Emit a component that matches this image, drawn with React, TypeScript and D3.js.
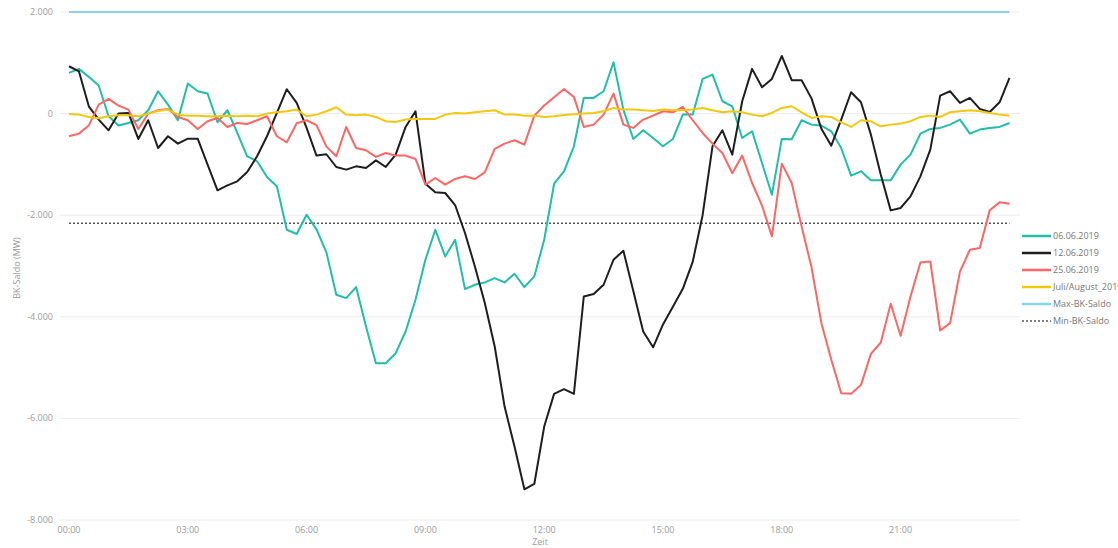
import React, { useEffect, useRef } from 'react'
import * as d3 from 'd3'

// 15-min slots, 00:00 .. 23:45
const slots = d3.range(96).map((i) => i * 15)

const tealValues = [
  802, 880, 723, 552, -53, -236, -184, -131, 66, 440, 177, -131, 591, 440, 394, -171,
  66, -381, -840, -939, -1248, -1432, -2286, -2370, -1990, -2280, -2730, -3567, -3632, -3415, -4191, -4913,
  -4913, -4716, -4289, -3665, -2877, -2286, -2812, -2483, -3455, -3369, -3323, -3238, -3323, -3153, -3415, -3205,
  -2483, -1380, -1136, -643, 309, 309, 440, 1011, 79, -499, -329, -479, -643, -499, -20, -20,
  683, 768, 243, 144, -479, -348, -972, -1596, -499, -505, -131, -217, -236, -348, -677, -1222,
  -1136, -1314, -1314, -1314, -1005, -808, -394, -302, -282, -217, -118, -394, -315, -282, -262, -184,
]

const blackValues = [
  932, 833, 144, -118, -329, 0, 13, -499, -131, -677, -446, -591, -493, -493, -1005, -1510,
  -1412, -1333, -1150, -840, -446, 13, 480, 210, -280, -827, -800, -1051, -1103, -1038, -1070, -920,
  -1051, -808, -263, 46, -1380, -1550, -1563, -1800, -2350, -3009, -3730, -4585, -5767, -6555, -7395, -7291,
  -6161, -5517, -5425, -5517, -3600, -3553, -3369, -2877, -2700, -3490, -4289, -4600, -4150, -3800, -3450, -2920,
  -2000, -644, -329, -808, 243, 880, 519, 683, 1135, 657, 657, 300, -300, -631, -118, 420,
  223, -414, -1202, -1905, -1858, -1629, -1235, -709, 355, 440, 210, 309, 92, 33, 223, 703,
]

const redValues = [
  -446, -394, -236, 177, 289, 158, 79, -302, 0, 66, 92, -66, -131, -302, -151, -86,
  -263, -184, -204, -131, -53, -446, -565, -190, -131, -226, -650, -840, -263, -677, -722, -853,
  -775, -827, -827, -893, -1399, -1268, -1399, -1287, -1235, -1287, -1156, -696, -591, -525, -610, -40,
  160, 320, 486, 328, -263, -217, -20, 394, -217, -282, -118, -40, 46, 26, 131, -131,
  -381, -591, -775, -1175, -827, -1366, -1810, -2417, -985, -1366, -2220, -3025, -4125, -4847, -5504, -5517,
  -5340, -4729, -4506, -3744, -4374, -3600, -2930, -2910, -4270, -4125, -3107, -2680, -2646, -1905, -1747, -1773,
]

const yellowValues = [
  -7, -20, -66, -92, -53, -33, -33, -53, 0, 53, 79, -20, -40, -40, -53, -53,
  -40, -53, -40, -53, 0, 26, 46, 79, -53, -20, 46, 125, -20, -33, -20, -66,
  -151, -164, -118, -105, -105, -105, -20, 13, 0, 26, 46, 66, -20, -20, -40, -40,
  -66, -53, -26, -13, 0, 13, 46, 112, 79, 79, 66, 53, 79, 66, 66, 79,
  112, 66, 26, 46, 26, -20, -53, 13, 112, 145, 26, -85, -53, -66, -171, -263,
  -131, -151, -250, -217, -197, -151, -66, -40, -66, 26, 46, 66, 46, 13, -20, -40,
]

const maxSaldo = 2000
const minSaldo = -2160

const yTicks = [2000, 0, -2000, -4000, -6000, -8000]
const xTicks = [0, 180, 360, 540, 720, 900, 1080, 1260]

const series = [
  { name: '06.06.2019', values: tealValues, color: '#1fbfa8' },
  { name: '12.06.2019', values: blackValues, color: '#1e1e1e' },
  { name: '25.06.2019', values: redValues, color: '#fd6663' },
  { name: 'Juli/August_2019', values: yellowValues, color: '#f2c80f' },
]

const W = 1118
const H = 548

const App = () => {
  const ref = useRef<SVGSVGElement>(null)

  useEffect(() => {
    const svg = d3.select(ref.current)
    svg.selectAll('*').remove()

    const x = d3.scaleLinear().domain([0, 1425]).range([69, 1009.5])
    const y = d3.scaleLinear().domain([-8000, 2000]).range([520, 12])

    const de = d3.formatLocale({ decimal: ',', thousands: '.', grouping: [3], currency: ['', '€'], minus: '-' })
    const fmt = de.format(',.0f')
    const timeFmt = (m: number) => d3.format('02')(Math.floor(m / 60)) + ':' + d3.format('02')(m % 60)

    const font = "'Open Sans', 'Noto Sans', sans-serif"

    // grid
    svg.append('g')
      .selectAll('line')
      .data(yTicks)
      .enter().append('line')
      .attr('x1', 60).attr('x2', 1020)
      .attr('y1', (d) => y(d)).attr('y2', (d) => y(d))
      .attr('stroke', '#ececec').attr('stroke-width', 1)

    // y labels
    svg.append('g')
      .selectAll('text')
      .data(yTicks)
      .enter().append('text')
      .attr('x', 53).attr('y', (d) => y(d) + 3)
      .attr('text-anchor', 'end')
      .attr('font-family', font).attr('font-size', 9)
      .attr('fill', '#9a9a9a')
      .text((d) => fmt(d))

    // x labels
    svg.append('g')
      .selectAll('text')
      .data(xTicks)
      .enter().append('text')
      .attr('x', (d) => x(d)).attr('y', 533)
      .attr('text-anchor', 'middle')
      .attr('font-family', font).attr('font-size', 9)
      .attr('fill', '#9a9a9a')
      .text((d) => timeFmt(d))

    svg.append('text')
      .attr('x', 540).attr('y', 545)
      .attr('text-anchor', 'middle')
      .attr('font-family', font).attr('font-size', 9)
      .attr('fill', '#9a9a9a')
      .text('Zeit')

    svg.append('text')
      .attr('transform', 'translate(20,268) rotate(-90)')
      .attr('text-anchor', 'middle')
      .attr('font-family', font).attr('font-size', 9)
      .attr('fill', '#9a9a9a')
      .text('BK-Saldo (MW)')

    // max / min reference lines
    svg.append('line')
      .attr('x1', x(0)).attr('x2', x(1425))
      .attr('y1', y(maxSaldo)).attr('y2', y(maxSaldo))
      .attr('stroke', '#8ad4eb').attr('stroke-width', 2)

    svg.append('line')
      .attr('x1', x(0)).attr('x2', x(1425))
      .attr('y1', y(minSaldo)).attr('y2', y(minSaldo))
      .attr('stroke', '#555').attr('stroke-width', 1.5)
      .attr('stroke-dasharray', '2,2')

    const line = d3.line<number>()
      .x((d, i) => x(slots[i]))
      .y((d) => y(d))

    series.forEach((s) => {
      svg.append('path')
        .datum(s.values)
        .attr('d', line)
        .attr('fill', 'none')
        .attr('stroke', s.color)
        .attr('stroke-width', 2)
        .attr('stroke-linejoin', 'round')
    })

    // legend (last label runs off the right edge, as in the original)
    const legendItems = [
      ...series.map((s) => ({ name: s.name, color: s.color, dash: null as string | null })),
      { name: 'Max-BK-Saldo', color: '#8ad4eb', dash: null },
      { name: 'Min-BK-Saldo', color: '#555', dash: '2,2' },
    ]
    const lg = svg.append('g').selectAll('g')
      .data(legendItems)
      .enter().append('g')
      .attr('transform', (d, i) => 'translate(1022,' + (236 + i * 17) + ')')
    lg.append('line')
      .attr('x1', 0).attr('x2', 29)
      .attr('stroke', (d) => d.color)
      .attr('stroke-width', (d) => (d.dash ? 1.5 : 2.5))
      .attr('stroke-dasharray', (d) => d.dash)
    lg.append('text')
      .attr('x', 31).attr('y', 3)
      .attr('font-family', font).attr('font-size', 9)
      .attr('fill', '#777')
      .text((d) => d.name)
  }, [])

  return (
    <svg ref={ref} width={W} height={H} style={{ position: 'absolute', left: 0, top: 0, background: '#fff' }} />
  )
}

export default App
